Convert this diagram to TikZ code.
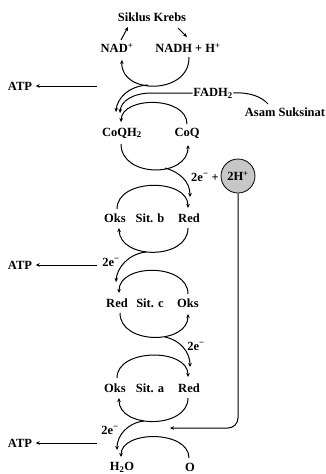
\documentclass[tikz,border=0pt]{standalone}
\usepackage{fontspec}
\setmainfont{Liberation Serif}
\usetikzlibrary{arrows.meta}
\begin{document}
\begin{tikzpicture}[x=1pt,y=-1pt,
  lbl/.style={inner sep=0.5pt,font=\fontsize{12.5}{14}\selectfont\bfseries},
  ln/.style={line width=1pt,black},
  arr/.style={ln,-{Stealth[length=4pt,width=3.6pt]}}]
\useasboundingbox (0,0) rectangle (326,474);
% texts
\node[lbl] (krebs) at (152,17) {Siklus Krebs};
\node[lbl] (nad) at (117,48) {NAD\textsuperscript{+}};
\node[lbl] (nadh) at (188,48) {NADH + H\textsuperscript{+}};
\node[lbl] (atp1) at (20,86) {ATP};
\node[lbl] (fadh) at (213,93) {FADH\textsubscript{2}};
\node[lbl] (asam) at (285,112) {Asam Suksinat};
\node[lbl] (coqh) at (122,133) {CoQH\textsubscript{2}};
\node[lbl] (coq) at (187,133) {CoQ};
\node[lbl] (e1) at (205,177) {2e\textsuperscript{−} +};
\node[draw,line width=0.8pt,fill=black!22,circle,minimum size=34pt,inner sep=0pt,font=\fontsize{12.5}{14}\selectfont\bfseries] (h) at (238,176) {2H\textsuperscript{+}};
\node[lbl] (oksb) at (115,218) {Oks};
\node[lbl] (sitb) at (150,218) {Sit. b};
\node[lbl] (redb) at (189,218) {Red};
\node[lbl] (e2) at (111,262) {2e\textsuperscript{−}};
\node[lbl] (atp2) at (20,265) {ATP};
\node[lbl] (redc) at (117,303) {Red};
\node[lbl] (sitc) at (150,303) {Sit. c};
\node[lbl] (oksc) at (188,303) {Oks};
\node[lbl] (e3) at (196,346) {2e\textsuperscript{−}};
\node[lbl] (oksa) at (115,388) {Oks};
\node[lbl] (sita) at (150,388) {Sit. a};
\node[lbl] (reda) at (189,388) {Red};
\node[lbl] (e4) at (110,430) {2e\textsuperscript{−}};
\node[lbl] (atp3) at (20,443) {ATP};
\node[lbl] (hho) at (122,467) {H\textsubscript{2}O};
\node[lbl] (o) at (190,467) {O};
% coordinates
\coordinate (a1) at (97,86);
\coordinate (a2) at (97,265);
\coordinate (a3) at (97,443);
\coordinate (hend) at (170,428);
% ATP arrows
\draw[arr] (a1) -- ([xshift=3pt]atp1.east);
\draw[arr] (a2) -- ([xshift=3pt]atp2.east);
\draw[arr] (a3) -- ([xshift=3pt]atp3.east);
% top cycle
\draw[arr] (121,40) -- (128,27);
\draw[arr] (178,28) -- (187,37);
\draw[arr] (189,57) .. controls (190,95) and (120,95) .. (122,60);
\draw[arr] (148,85) .. controls (128,86) and (117,99) .. (116,112);
\draw[arr] (fadh.west) -- (152,93) .. controls (133,93) and (121,101) .. (120,113);
\draw[ln] (fadh.east) .. controls (250,92) and (262,97) .. (268,104);
% CoQ cycle
\draw[arr] (187,124) .. controls (187,96) and (122,96) .. (121,122);
\draw[arr] (121,144) .. controls (121,178) and (188,178) .. (188,145);
\draw[arr] (165,168) .. controls (180,172) and (190,182) .. (190,197);
% 2H+ line
\draw[arr,rounded corners=10pt] (h.south) |- (hend);
% Sit b
\draw[arr] (117,209) .. controls (117,178) and (188,178) .. (188,208);
\draw[arr] (188,228) .. controls (188,260) and (120,260) .. (119,228);
\draw[arr] (146,252) .. controls (128,254) and (117,268) .. (116,282);
% Sit c
\draw[arr] (188,294) .. controls (188,263) and (119,263) .. (119,293);
\draw[arr] (120,313) .. controls (120,345) and (188,345) .. (188,314);
\draw[arr] (165,337) .. controls (180,340) and (190,352) .. (190,367);
% Sit a
\draw[arr] (117,378) .. controls (117,348) and (188,348) .. (188,377);
\draw[arr] (188,398) .. controls (188,429) and (119,429) .. (119,398);
\draw[arr] (144,421) .. controls (127,423) and (117,436) .. (117,450);
% bottom
\draw[arr] (189,458) .. controls (189,430) and (121,430) .. (121,457);
\end{tikzpicture}
\end{document}
